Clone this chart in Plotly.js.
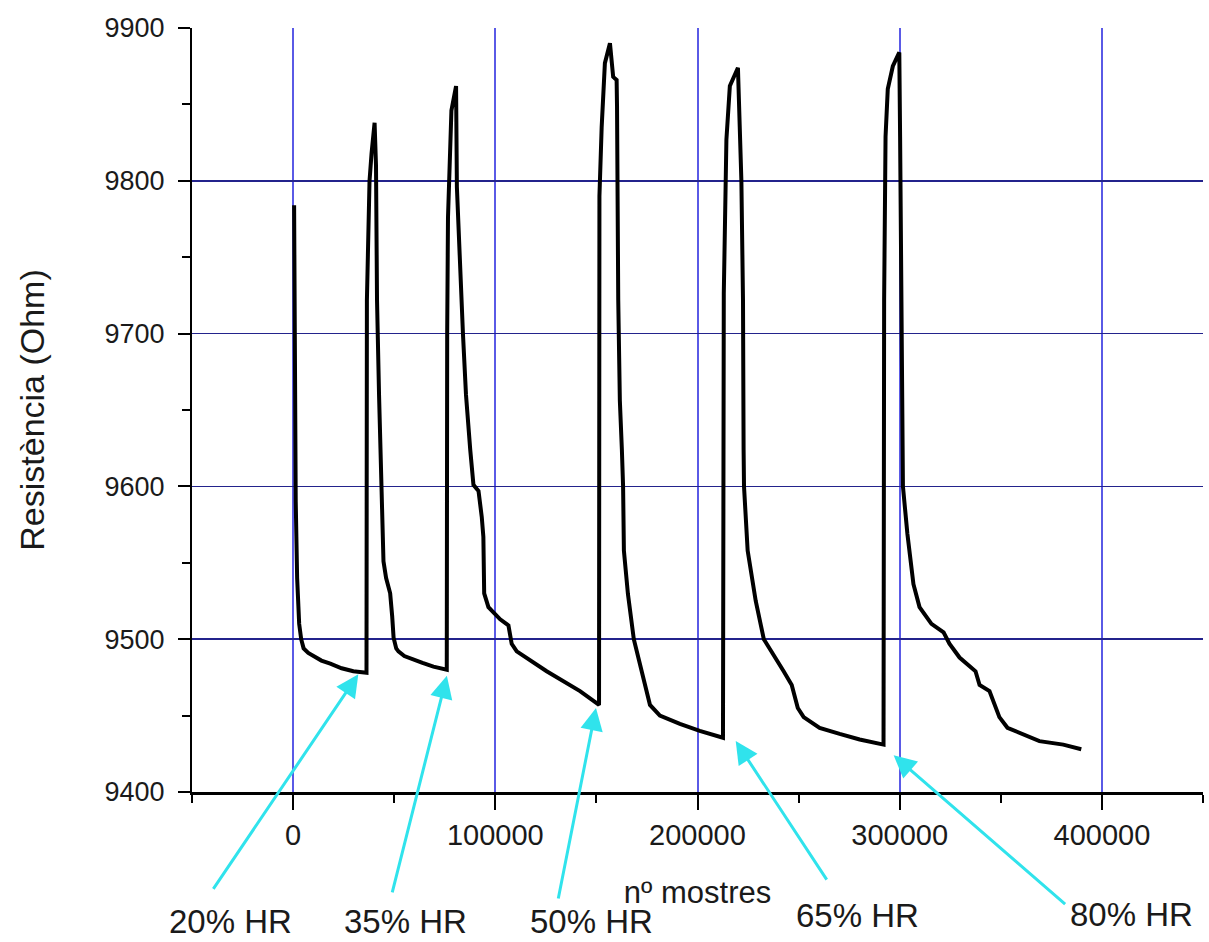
<!DOCTYPE html>
<html>
<head>
<meta charset="utf-8">
<script src="https://cdn.plot.ly/plotly-3.0.1.min.js"></script>
<style>html,body{margin:0;padding:0;background:#fff;}#chart{width:1209px;height:942px;}</style>
</head>
<body>
<div id="chart"></div>
<script>
// nº mostres (sample index)
const samples = [
  500, 700, 1000, 1300, 2000, 3000, 4000, 5200, 7500, 10200, 14000, 18400, 24000, 29800, 36300,
  36500, 37800, 38800, 40300, 41000, 41500, 42500, 43100, 43400, 44000, 44700, 46000, 48000, 49000, 49700, 51000, 52100, 55000, 59600, 64000, 69400, 76000,
  76200, 76600, 78300, 80600, 81000, 82600, 84000, 85500, 86500, 87600, 89200, 91700, 93300, 94100, 94500, 96600, 102400, 106500, 108100, 110600, 125400, 141900, 151300,
  151500, 152600, 154200, 156700, 158300, 160000, 160200, 160800, 161600, 162600, 163200, 163600, 165600, 168500, 171500, 176500, 181400, 191300, 201100, 212600,
  213000, 214300, 216000, 220000, 221700, 222000, 222500, 222800, 223000, 224800, 228800, 232800, 238700, 242600, 246600, 249600, 252500, 260400, 270300, 280200, 292000,
  292300, 293000, 294100, 296600, 299800, 300200, 300700, 301000, 301300, 301600, 303800, 306800, 309800, 315700, 321700, 324600, 329600, 337500, 339500, 344400, 349300, 353300, 369100, 380900, 389800
];
// Resistència (Ohm)
const resistance = [
  9784, 9740, 9640, 9590, 9540, 9510, 9500, 9494, 9491, 9489, 9486, 9484, 9481, 9479, 9478,
  9722, 9800, 9818, 9838, 9810, 9722, 9660, 9624, 9600, 9570, 9551, 9540, 9530, 9515, 9501, 9494, 9492, 9489, 9487, 9484.5, 9482, 9480,
  9700, 9776, 9846, 9862, 9796, 9737, 9700, 9660, 9640, 9624, 9601, 9597, 9580, 9567, 9530, 9521, 9513, 9509, 9497, 9492, 9479, 9466, 9457,
  9790, 9835, 9877, 9890, 9868, 9866, 9849, 9722, 9656, 9624, 9600, 9558, 9529.5, 9500, 9484, 9457, 9450, 9444.6, 9440, 9435.5,
  9726, 9827, 9862, 9874, 9800, 9766, 9722, 9624, 9600, 9558, 9525, 9500, 9488, 9479, 9470, 9455, 9449, 9442, 9438, 9434.4, 9431,
  9722, 9829, 9860, 9875, 9884, 9829, 9752, 9700, 9624, 9600, 9569, 9536, 9521, 9510, 9504.5, 9497, 9488, 9479, 9470, 9466, 9449, 9442, 9433.3, 9431, 9428
];
// humidity step labels and the points they mark
const hrLabels = ['20% HR', '35% HR', '50% HR', '65% HR', '80% HR'];
const hrSample = [32250, 76050, 149800, 218900, 297000];
const hrResistance = [9477, 9476, 9455, 9433.3, 9424];
const xTickVals = [0, 100000, 200000, 300000, 400000];
const yTickVals = [9400, 9500, 9600, 9700, 9800, 9900];

// layout-only placement of arrow tails (px offsets) and label positions (paper)
const arrowOffsets = [[-146, 216], [-55, 218], [-38, 192], [92, 140], [173, 150]];
const labelPos = [[0.0376, -0.169], [0.2107, -0.169], [0.3952, -0.169], [0.6578, -0.162], [0.9297, -0.160]];

const annotations = [];
hrLabels.forEach((lab, i) => {
  annotations.push({
    x: hrSample[i], y: hrResistance[i], xref: 'x', yref: 'y',
    text: '', showarrow: true, arrowhead: 2, arrowsize: 1.5, arrowwidth: 3,
    arrowcolor: '#30e3ec', ax: arrowOffsets[i][0], ay: arrowOffsets[i][1], standoff: 0
  });
  annotations.push({
    x: labelPos[i][0], y: labelPos[i][1], xref: 'paper', yref: 'paper',
    text: lab, showarrow: false, xanchor: 'center', yanchor: 'middle',
    font: {family: 'Liberation Sans, Arial, sans-serif', size: 33, color: '#1a1a1a'}
  });
});

const trace = {
  x: samples, y: resistance, type: 'scatter', mode: 'lines',
  line: {color: '#000000', width: 4}, hoverinfo: 'skip'
};

const layout = {
  width: 1209, height: 942,
  margin: {l: 192, r: 6, t: 28, b: 150},
  paper_bgcolor: '#ffffff', plot_bgcolor: '#ffffff',
  showlegend: false,
  font: {family: 'Liberation Sans, Arial, sans-serif', color: '#1a1a1a'},
  xaxis: {
    range: [-50000, 450000], tickmode: 'array', tickvals: xTickVals,
    tickformat: 'd',
    showgrid: true, gridcolor: '#5a5ae6', gridwidth: 2,
    zeroline: false, showline: true, linecolor: '#000', linewidth: 3,
    ticks: 'outside', ticklen: 15, tickwidth: 2, tickcolor: '#000',
    minor: {dtick: 50000, tick0: 0, ticks: 'outside', ticklen: 8, tickwidth: 2, tickcolor: '#000', showgrid: false},
    tickfont: {size: 29, color: '#1a1a1a'},
    title: {text: 'nº mostres', font: {size: 31, color: '#1a1a1a'}, standoff: 32}
  },
  yaxis: {
    range: [9400, 9900], tickmode: 'array', tickvals: yTickVals,
    tickformat: 'd',
    showgrid: true, gridcolor: '#23238c', gridwidth: 1.5,
    zeroline: false, showline: true, linecolor: '#000', linewidth: 2,
    ticks: 'outside', ticklen: 12, tickwidth: 2, tickcolor: '#000',
    minor: {dtick: 50, tick0: 9400, ticks: 'outside', ticklen: 8, tickwidth: 2, tickcolor: '#000', showgrid: false},
    tickfont: {size: 27, color: '#1a1a1a'},
    ticklabelstandoff: 8,
    title: {text: 'Resistència (Ohm)', font: {size: 34, color: '#1a1a1a'}, standoff: 50}
  },
  annotations: annotations
};

Plotly.newPlot('chart', [trace], layout, {staticPlot: true, displayModeBar: false});
</script>
</body>
</html>
